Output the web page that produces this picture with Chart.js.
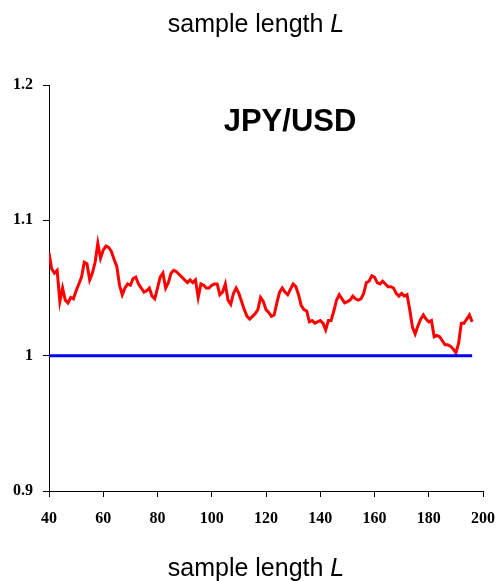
<!DOCTYPE html>
<html>
<head>
<meta charset="utf-8">
<script src="https://cdn.jsdelivr.net/npm/chart.js@4"></script>
<style>
  html, body { margin: 0; padding: 0; background: #fff; }
  #wrap { position: relative; width: 498px; height: 581px; }
</style>
</head>
<body>
<div id="wrap"><canvas id="ratioChart" width="498" height="581"></canvas></div>
<script>
// sample length L (x) and the JPY/USD ratio
const sampleLength = [];
for (let L = 40; L <= 196; L++) sampleLength.push(L);

const ratio = [
  1.076, 1.064, 1.061, 1.063, 1.040, 1.050, 1.041, 1.039, 1.043, 1.042,
  1.048, 1.053, 1.058, 1.069, 1.068, 1.056, 1.061, 1.069, 1.083, 1.072,
  1.078, 1.081, 1.080, 1.077, 1.071, 1.066, 1.052, 1.045, 1.050, 1.053,
  1.052, 1.057, 1.058, 1.053, 1.050, 1.047, 1.048, 1.050, 1.044, 1.042,
  1.050, 1.058, 1.061, 1.050, 1.054, 1.061, 1.063, 1.062, 1.060, 1.058,
  1.056, 1.054, 1.056, 1.054, 1.056, 1.043, 1.053, 1.052, 1.050, 1.050,
  1.052, 1.053, 1.053, 1.045, 1.047, 1.053, 1.041, 1.038, 1.046, 1.050,
  1.046, 1.040, 1.034, 1.029, 1.027, 1.029, 1.031, 1.034, 1.043, 1.040,
  1.034, 1.032, 1.029, 1.030, 1.039, 1.047, 1.050, 1.047, 1.045, 1.049,
  1.053, 1.051, 1.045, 1.037, 1.034, 1.033, 1.025, 1.026, 1.024, 1.025,
  1.026, 1.024, 1.019, 1.026, 1.026, 1.033, 1.041, 1.045, 1.042, 1.039,
  1.040, 1.041, 1.044, 1.042, 1.041, 1.042, 1.046, 1.054, 1.055, 1.059,
  1.058, 1.054, 1.053, 1.055, 1.053, 1.051, 1.051, 1.050, 1.046, 1.044,
  1.046, 1.044, 1.045, 1.034, 1.021, 1.016, 1.022, 1.027, 1.030, 1.027,
  1.025, 1.026, 1.014, 1.015, 1.014, 1.011, 1.008, 1.008, 1.007, 1.005,
  1.002, 1.009, 1.024, 1.024, 1.027, 1.030, 1.025
];

const baseline = sampleLength.map(() => 1);

const xTicks = [40, 60, 80, 100, 120, 140, 160, 180, 200];
const yTicks = [0.9, 1, 1.1, 1.2];

// titles drawn on the canvas (italic L)
const textPlugin = {
  id: 'texts',
  afterDraw(chart) {
    const c = chart.ctx;
    c.save();
    c.fillStyle = '#000';
    c.textBaseline = 'alphabetic';
    function axisTitle(y) {
      const a = 'sample length ', b = 'L';
      c.font = '25px "Liberation Sans", Arial, sans-serif';
      const wa = c.measureText(a).width;
      c.font = 'italic 25px "Liberation Sans", Arial, sans-serif';
      const wb = c.measureText(b).width;
      let x = 256 - (wa + wb) / 2;
      c.font = '25px "Liberation Sans", Arial, sans-serif';
      c.fillText(a, x, y);
      c.font = 'italic 25px "Liberation Sans", Arial, sans-serif';
      c.fillText(b, x + wa, y);
    }
    axisTitle(32);
    axisTitle(576);
    c.font = 'bold 31px "Liberation Sans", Arial, sans-serif';
    c.textAlign = 'center';
    c.fillText('JPY/USD', 290, 131);
    c.restore();
  }
};

const ctx = document.getElementById('ratioChart').getContext('2d');
const ratioChart = new Chart(ctx, {
  type: 'line',
  data: {
    datasets: [{
      data: sampleLength.map((L, i) => ({ x: L, y: baseline[i] })),
      borderColor: '#0000ff',
      borderWidth: 3,
      pointRadius: 0,
      tension: 0,
      fill: false
    }, {
      data: sampleLength.map((L, i) => ({ x: L, y: ratio[i] })),
      borderColor: '#ff0000',
      borderWidth: 3,
      pointRadius: 0,
      tension: 0,
      fill: false
    }]
  },
  options: {
    responsive: false,
    animation: false,
    layout: { padding: { top: 85, right: 15, left: 0, bottom: 0 } },
    scales: {
      x: {
        type: 'linear',
        min: 40,
        max: 200,
        afterBuildTicks: s => { s.ticks = xTicks.map(v => ({ value: v })); },
        afterFit: s => { s.height = 90; s.paddingLeft = 0; s.paddingRight = 0; },
        grid: { drawOnChartArea: false, drawTicks: true, tickLength: 6, color: '#000' },
        border: { color: '#000', width: 1 },
        ticks: {
          color: '#000',
          padding: 12,
          font: { family: '"Liberation Serif", "Times New Roman", serif', size: 16, weight: 'bold' }
        }
      },
      y: {
        min: 0.9,
        max: 1.2,
        afterBuildTicks: s => { s.ticks = yTicks.map(v => ({ value: v })); },
        afterFit: s => { s.width = 49; s.paddingTop = 0; s.paddingBottom = 0; },
        grid: { drawOnChartArea: false, drawTicks: true, tickLength: 6, color: '#000' },
        border: { color: '#000', width: 1 },
        ticks: {
          color: '#000',
          padding: 10,
          callback: v => String(Math.round(v * 10) / 10),
          font: { family: '"Liberation Serif", "Times New Roman", serif', size: 16, weight: 'bold' }
        }
      }
    },
    plugins: {
      legend: { display: false },
      title: { display: false },
      tooltip: { enabled: false }
    }
  },
  plugins: [textPlugin]
});
</script>
</body>
</html>
